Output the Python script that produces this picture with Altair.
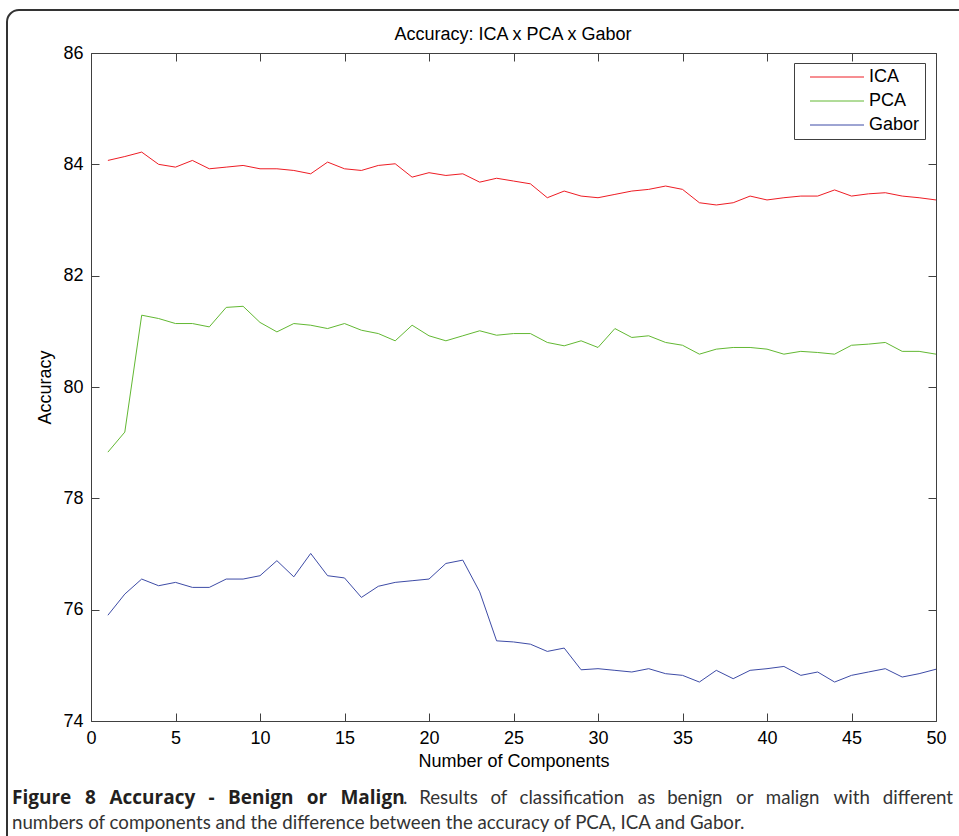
import altair as alt
import pandas as pd

# ---------------- data ----------------
components = list(range(1, 51))
ica = [84.07, 84.14, 84.22, 84.00, 83.95, 84.07, 83.92, 83.95, 83.98, 83.92,
       83.92, 83.89, 83.83, 84.04, 83.92, 83.89, 83.98, 84.01, 83.77, 83.85,
       83.80, 83.83, 83.68, 83.75, 83.70, 83.65, 83.40, 83.52, 83.43, 83.40,
       83.46, 83.52, 83.55, 83.61, 83.55, 83.31, 83.27, 83.31, 83.43, 83.36,
       83.40, 83.43, 83.43, 83.54, 83.43, 83.47, 83.49, 83.43, 83.40, 83.36]
pca = [78.83, 79.19, 81.29, 81.23, 81.14, 81.14, 81.08, 81.43, 81.45, 81.16,
       80.99, 81.14, 81.11, 81.05, 81.14, 81.02, 80.96, 80.83, 81.11, 80.92,
       80.83, 80.92, 81.01, 80.93, 80.96, 80.96, 80.80, 80.74, 80.83, 80.71,
       81.05, 80.89, 80.92, 80.80, 80.75, 80.59, 80.68, 80.71, 80.71, 80.68,
       80.59, 80.64, 80.62, 80.59, 80.75, 80.77, 80.80, 80.64, 80.64, 80.59]
gabor = [75.90, 76.28, 76.55, 76.43, 76.49, 76.40, 76.40, 76.55, 76.55, 76.61,
         76.88, 76.59, 77.01, 76.61, 76.57, 76.22, 76.42, 76.49, 76.52, 76.55,
         76.83, 76.89, 76.32, 75.44, 75.42, 75.38, 75.25, 75.31, 74.92, 74.94,
         74.91, 74.88, 74.94, 74.85, 74.82, 74.70, 74.91, 74.76, 74.91, 74.94,
         74.98, 74.82, 74.88, 74.70, 74.82, 74.88, 74.94, 74.79, 74.85, 74.93]
series = ["ICA", "PCA", "Gabor"]
colors = ["#ee1c24", "#62b832", "#3d4ba6"]
x_ticks = list(range(0, 51, 5))
y_ticks = list(range(74, 87, 2))

chart_title = "Accuracy: ICA x PCA x Gabor"
x_title = "Number of Components"
y_title = "Accuracy"
caption_bold = "Figure 8 Accuracy - Benign or Malign"
caption_rest = ". Results of classification as benign or malign with different"
caption_line2 = "numbers of components and the difference between the accuracy of PCA, ICA and Gabor."

rows = []
for name, vals in zip(series, [ica, pca, gabor]):
    for c, v in zip(components, vals):
        rows.append({"n": c, "acc": v, "method": name})
df = pd.DataFrame(rows)

FONT = "Liberation Sans"
BOLDFONT = "Open Sans"
CAPFONT = "Lato"
BOLD_SIZE = 19
REG_SIZE = 18.7
AX = "#404040"

# ---------- justified caption line 1 (word layout, pixel offsets) ----------
bold_w = {" ": .26, "F": .57, "8": .57, "A": .69, "-": .32, "B": .66, "M": .88,
          "a": .57, "b": .62, "c": .51, "e": .58, "g": .56, "i": .29, "n": .64,
          "o": .61, "r": .44, "u": .64, "y": .55, "l": .29}
reg_w = {" ": .193, ".": .21, "R": .6, "a": .5, "b": .56, "c": .47, "d": .56,
         "e": .52, "f": .32, "g": .5, "h": .56, "i": .24, "l": .24, "m": .84,
         "n": .56, "o": .56, "r": .35, "s": .4, "t": .34, "u": .56, "w": .78}


def est(txt, table, size):
    return sum(table.get(ch, .55) for ch in txt) * size


BOLD_TOTAL, REG_TOTAL = 341.0, 477.0   # measured natural widths
kb = BOLD_TOTAL / est(caption_bold, bold_w, BOLD_SIZE)
kr = REG_TOTAL / est(caption_rest, reg_w, REG_SIZE)

tokens = [(w, True, True) for w in caption_bold.split(" ")]
tokens[0] = (tokens[0][0], True, False)
tokens.append((".", False, False))
tokens += [(w, False, True) for w in caption_rest[2:].split(" ")]
n_spaces = sum(1 for t in tokens if t[2])
LEFT, RIGHT = -79, 864
extra = ((RIGHT - LEFT) - (BOLD_TOTAL + REG_TOTAL)) / n_spaces
cur = LEFT
bold_rows, reg_rows = [], []
for word, is_bold, space_before in tokens:
    if space_before:
        sp = est(" ", bold_w, BOLD_SIZE) * kb if is_bold else est(" ", reg_w, REG_SIZE) * kr
        cur += sp + extra
    (bold_rows if is_bold else reg_rows).append({"w": word, "x": cur})
    cur += est(word, bold_w, BOLD_SIZE) * kb if is_bold else est(word, reg_w, REG_SIZE) * kr
bold_df = pd.DataFrame(bold_rows)
reg_df = pd.DataFrame(reg_rows)

xscale = alt.Scale(domain=[0, 50], nice=False, zero=False)
yscale = alt.Scale(domain=[74, 86], nice=False, zero=False)

common = dict(offset=-8, tickSize=8, domain=False, grid=False, tickColor=AX,
              tickWidth=1, labelColor="#000", labelFont=FONT, labelFontSize=18,
              labelPadding=8, titleFont=FONT, titleFontSize=18,
              titleFontWeight="normal", titleColor="#000")
tick_only = {k: v for k, v in common.items() if not k.startswith("title")}

lines = alt.Chart(df).mark_line(strokeWidth=1, clip=True).encode(
    x=alt.X("n:Q", scale=xscale,
            axis=alt.Axis(values=x_ticks, title=x_title, titlePadding=5,
                          labelFlush=False, **common)),
    y=alt.Y("acc:Q", scale=yscale,
            axis=alt.Axis(values=y_ticks, title=y_title, titlePadding=8,
                          labelFlush=False, **common)),
    color=alt.Color("method:N", sort=series,
                    scale=alt.Scale(domain=series, range=colors),
                    legend=alt.Legend(title=None, orient="none", legendX=703,
                                      legendY=10, direction="vertical",
                                      strokeColor=AX, fillColor="white",
                                      padding=5, symbolType="M0.4,0H11.2",
                                      symbolSize=100, symbolStrokeWidth=1,
                                      labelFont=FONT, labelFontSize=18,
                                      labelColor="#000", labelOffset=52,
                                      rowPadding=6)),
)

frame = alt.Chart(df).mark_line(opacity=0).encode(
    x=alt.X("n:Q", scale=xscale,
            axis=alt.Axis(orient="top", values=x_ticks, labels=False, title="",
                          **tick_only)),
    y=alt.Y("acc:Q", scale=yscale,
            axis=alt.Axis(orient="right", values=y_ticks, labels=False, title="",
                          **tick_only)),
    detail="method:N",
)

one = pd.DataFrame({"k": [0]})
border = alt.Chart(one).mark_rect(filled=False, stroke="#333333", strokeWidth=2,
                                  cornerRadius=12).encode(
    x=alt.value(-84), x2=alt.value(1000), y=alt.value(-43), y2=alt.value(1000))

title_mark = alt.Chart(pd.DataFrame({"t": [chart_title]})).mark_text(
    align="center", baseline="alphabetic", font=FONT, fontSize=18,
    color="#000").encode(x=alt.value(422), y=alt.value(-13), text="t:N")

cap_bold = alt.Chart(bold_df).mark_text(
    align="left", baseline="alphabetic", font=BOLDFONT, fontSize=BOLD_SIZE,
    fontWeight="bold", color="#231f20").encode(
    x=alt.X("x:Q", scale=None, axis=None), y=alt.value(751), text="w:N")
cap_reg = alt.Chart(reg_df).mark_text(
    align="left", baseline="alphabetic", font=CAPFONT, fontSize=REG_SIZE,
    color="#333333").encode(
    x=alt.X("x:Q", scale=None, axis=None), y=alt.value(751), text="w:N")
cap_line2 = alt.Chart(pd.DataFrame({"t": [caption_line2]})).mark_text(
    align="left", baseline="alphabetic", font=CAPFONT, fontSize=REG_SIZE,
    color="#333333").encode(
    x=alt.value(-79), y=alt.value(776), text="t:N")

chart = alt.layer(border, lines, frame, title_mark, cap_bold, cap_reg,
                  cap_line2).resolve_axis(
    x="independent", y="independent"
).properties(
    width=845, height=668,
    autosize=alt.AutoSizeParams(type="none"),
    padding={"left": 91, "top": 53, "right": 23, "bottom": 115},
    background="white",
).configure_view(stroke=AX, strokeWidth=1)

chart.save("out.html", embed_options={"renderer": "svg", "actions": False})
